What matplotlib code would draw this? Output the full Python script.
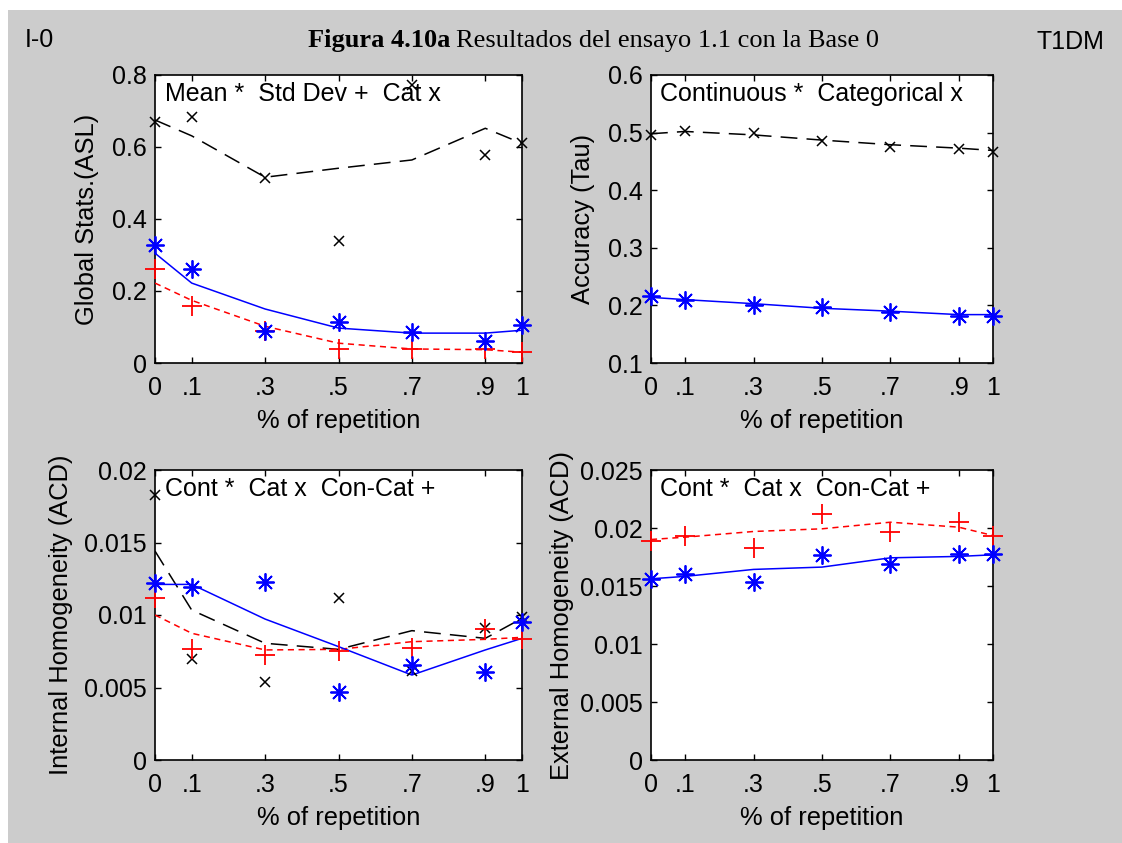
import matplotlib
matplotlib.use("Agg")
import matplotlib.pyplot as plt
from matplotlib.patches import Rectangle

# ---- data ----
x = [0, 0.1, 0.3, 0.5, 0.7, 0.9, 1.0]
xtick_labels = ['0', '.1', '.3', '.5', '.7', '.9', '1']

# Panel 1: Global Stats (ASL)
gs_mean_pts = [0.328, 0.262, 0.088, 0.113, 0.085, 0.060, 0.105]
gs_mean_fit = [0.305, 0.222, 0.150, 0.097, 0.083, 0.083, 0.091]
gs_std_pts = [0.262, 0.157, 0.088, 0.039, 0.039, 0.039, 0.030]
gs_std_fit = [0.222, 0.174, 0.102, 0.055, 0.039, 0.037, 0.030]
gs_cat_pts = [0.670, 0.684, 0.513, 0.339, 0.772, 0.578, 0.610]
gs_cat_fit = [0.675, 0.631, 0.516, 0.541, 0.564, 0.652, 0.610]

# Panel 2: Accuracy (Tau)
acc_cont_pts = [0.216, 0.209, 0.201, 0.197, 0.188, 0.182, 0.182]
acc_cont_fit = [0.214, 0.210, 0.203, 0.195, 0.190, 0.184, 0.184]
acc_cat_pts = [0.496, 0.503, 0.500, 0.486, 0.475, 0.471, 0.467]
acc_cat_fit = [0.498, 0.502, 0.496, 0.487, 0.479, 0.473, 0.469]

# Panel 3: Internal Homogeneity (ACD)
ih_cont_pts = [0.01218, 0.01195, 0.01230, 0.00471, 0.00655, 0.00609, 0.00954]
ih_cont_fit = [0.01211, 0.01211, 0.00972, 0.00782, 0.00586, 0.00759, 0.00839]
ih_cc_pts = [0.01120, 0.00763, 0.00724, 0.00754, 0.00775, 0.00901, 0.00832]
ih_cc_fit = [0.01000, 0.00874, 0.00759, 0.00763, 0.00816, 0.00832, 0.00846]
ih_cat_pts = [0.01828, 0.00694, 0.00540, 0.01120, 0.00616, 0.00908, 0.00989]
ih_cat_fit = [0.01441, 0.01034, 0.00805, 0.00763, 0.00892, 0.00839, 0.00977]

# Panel 4: External Homogeneity (ACD)
eh_cont_pts = [0.01562, 0.01606, 0.01534, 0.01763, 0.01691, 0.01778, 0.01778]
eh_cont_fit = [0.01562, 0.01583, 0.01643, 0.01663, 0.01743, 0.01755, 0.01769]
eh_cc_pts = [0.01892, 0.01935, 0.01829, 0.02122, 0.01964, 0.02056, 0.01935]
eh_cc_fit = [0.01901, 0.01921, 0.01970, 0.01993, 0.02050, 0.02007, 0.01935]

# ---- style ----
FONT = 'Liberation Sans'
FS = 18
FSL = 18.4
plt.rcParams['font.family'] = FONT
BLUE = '#0000ff'
RED = '#ff0000'
BLACK = '#000000'
STAR = (8, 2, 0)

W, H = 1122, 843
fig = plt.figure(figsize=(W / 100, H / 100), dpi=100, facecolor='white')
bg = Rectangle((8 / W, 0), 1 - 8 / W, 1 - 10 / H, transform=fig.transFigure,
               facecolor='#cccccc', edgecolor='none', zorder=-10)
fig.patches.append(bg)


def axes_px(l, t, r, b):
    return fig.add_axes([l / W, 1 - b / H, (r - l) / W, (b - t) / H])


def style(ax, ylim, yticks, yticklabels, ylabel, legend_text, ylpad):
    ax.set_facecolor('white')
    ax.set_xlim(0, 1)
    ax.set_ylim(*ylim)
    ax.set_xticks(x)
    ax.set_xticklabels(xtick_labels, fontsize=FS)
    ax.set_yticks(yticks)
    ax.set_yticklabels(yticklabels, fontsize=FS)
    ax.tick_params(direction='in', length=4, width=1, top=True, right=True, pad=6)
    ax.tick_params(axis='x', pad=9)
    for s in ax.spines.values():
        s.set_linewidth(1.2)
    ax.set_xlabel('% of repetition', fontsize=FSL, labelpad=7)
    ax.set_ylabel(ylabel, fontsize=FSL, labelpad=ylpad)
    ax.text(0.027, 0.975, legend_text, transform=ax.transAxes, fontsize=FS,
            ha='left', va='top')


def pts(ax, y, color, marker, ms, mew=1.3):
    ax.plot(x, y, linestyle='none', marker=marker, color=color, markersize=ms,
            markeredgewidth=mew, clip_on=False, zorder=4)


def fit(ax, y, color, dashes=None):
    if dashes is None:
        ax.plot(x, y, color=color, linewidth=1.1, zorder=3)
    else:
        ax.plot(x, y, color=color, linewidth=1.1, dashes=dashes, zorder=3)


LONG = (11, 6)
SHORT = (4, 3)

# Panel 1
ax1 = axes_px(155, 75, 522, 363)
fit(ax1, gs_cat_fit, BLACK, LONG)
fit(ax1, gs_std_fit, RED, SHORT)
fit(ax1, gs_mean_fit, BLUE)
pts(ax1, gs_cat_pts, BLACK, 'x', 7, 1.1)
pts(ax1, gs_std_pts, RED, '+', 15)
pts(ax1, gs_mean_pts, BLUE, STAR, 13)
style(ax1, (0, 0.8), [0, 0.2, 0.4, 0.6, 0.8], ['0', '0.2', '0.4', '0.6', '0.8'],
      'Global Stats.(ASL)', 'Mean *  Std Dev +  Cat x', 9)

# Panel 2
ax2 = axes_px(651, 75, 993, 363)
fit(ax2, acc_cat_fit, BLACK, LONG)
fit(ax2, acc_cont_fit, BLUE)
pts(ax2, acc_cat_pts, BLACK, 'x', 7, 1.1)
pts(ax2, acc_cont_pts, BLUE, STAR, 13)
style(ax2, (0.1, 0.6), [0.1, 0.2, 0.3, 0.4, 0.5, 0.6],
      ['0.1', '0.2', '0.3', '0.4', '0.5', '0.6'],
      'Accuracy (Tau)', 'Continuous *  Categorical x', 9)

# Panel 3
ax3 = axes_px(155, 470, 522, 760)
fit(ax3, ih_cat_fit, BLACK, LONG)
fit(ax3, ih_cc_fit, RED, SHORT)
fit(ax3, ih_cont_fit, BLUE)
pts(ax3, ih_cat_pts, BLACK, 'x', 7, 1.1)
pts(ax3, ih_cc_pts, RED, '+', 15)
pts(ax3, ih_cont_pts, BLUE, STAR, 13)
style(ax3, (0, 0.02), [0, 0.005, 0.01, 0.015, 0.02],
      ['0', '0.005', '0.01', '0.015', '0.02'],
      'Internal Homogeneity (ACD)', 'Cont *  Cat x  Con-Cat +', 8)

# Panel 4
ax4 = axes_px(651, 470, 993, 760)
fit(ax4, eh_cc_fit, RED, SHORT)
fit(ax4, eh_cont_fit, BLUE)
pts(ax4, eh_cc_pts, RED, '+', 15)
pts(ax4, eh_cont_pts, BLUE, STAR, 13)
style(ax4, (0, 0.025), [0, 0.005, 0.01, 0.015, 0.02, 0.025],
      ['0', '0.005', '0.01', '0.015', '0.02', '0.025'],
      'External Homogeneity (ACD)', 'Cont *  Cat x  Con-Cat +', 4)

# Header texts
fig.text(25 / W, 1 - 40 / H, 'I-0', fontsize=FS, ha='left', va='center')
fig.text(1104 / W, 1 - 42 / H, 'T1DM', fontsize=FS, ha='right', va='center')
t1 = fig.text(308 / W, 1 - 41 / H, 'Figura 4.10a', fontsize=19, ha='left', va='center',
              family='Liberation Serif', fontweight='bold')
fig.canvas.draw()
bb = t1.get_window_extent()
fig.text((bb.x1 + 6) / W, 1 - 41 / H, 'Resultados del ensayo 1.1 con la Base 0', fontsize=19,
         ha='left', va='center', family='Liberation Serif')

fig.savefig('out.png', dpi=100, facecolor='white')
